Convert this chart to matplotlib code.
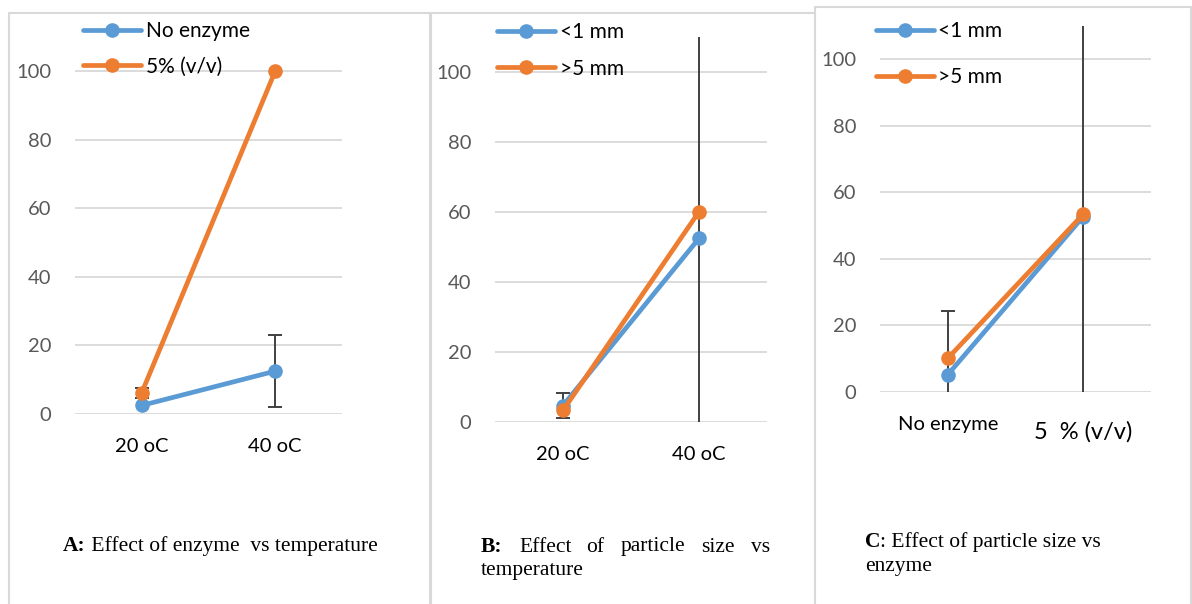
import matplotlib.pyplot as plt
import numpy as np
from matplotlib.patches import Rectangle

# data
temps = ['20 oC', '40 oC']
enzyme_levels = ['No enzyme', '5  % (v/v)']

a_none = [2.5, 12.5]
a_none_err = [0, 10.5]
a_5pct = [6.2, 100]
a_5pct_err = [1.4, 0]

b_small = [4.7, 52.4]
b_small_err = [3.6, 0]
b_large = [3.3, 60.0]
b_large_err = [0, 61]

c_small = [5.2, 52.7]
c_small_err = [0, 0]
c_large = [10.1, 53.4]
c_large_err = [14.1, 61]

W, H = 1192, 604
BLUE = '#5B9BD5'
ORANGE = '#ED7D31'
GRID = '#D9D9D9'

plt.rcParams['font.family'] = 'Lato'
fig = plt.figure(figsize=(W / 100, H / 100), dpi=100)
renderer = fig.canvas.get_renderer()


def px_axes(left, right, y0, y110):
    # axes rectangle from pixel positions
    return fig.add_axes([left / W, 1 - y0 / H, (right - left) / W, (y0 - y110) / H])


def draw_panel(ax, cats, s1, e1, s2, e2, labels, leg_xy, leg_space):
    x = np.arange(len(cats))
    for vals, col, lab in [(s1, BLUE, labels[0]), (s2, ORANGE, labels[1])]:
        ax.plot(x, vals, color=col, lw=3.4, marker='o', ms=9.5, label=lab,
                zorder=4, clip_on=False, solid_capstyle='round')
    for vals, errs in [(s1, e1), (s2, e2)]:
        idx = [i for i, e in enumerate(errs) if e > 0]
        if idx:
            ax.errorbar(x[idx], np.array(vals)[idx], yerr=np.array(errs)[idx],
                        fmt='none', ecolor='#404040', elinewidth=1.4,
                        capsize=5, capthick=1.4, zorder=3)
    ax.set_xlim(-0.5, len(cats) - 0.5)
    ax.set_ylim(0, 110)
    ax.set_yticks(np.arange(0, 101, 20))
    ax.set_xticks(x, cats)
    ax.yaxis.grid(True, color=GRID, lw=1.3)
    ax.set_axisbelow(True)
    for s in ax.spines.values():
        s.set_visible(False)
    ax.tick_params(axis='y', length=0, pad=17, labelsize=14.5, labelcolor='#595959')
    ax.tick_params(axis='x', length=0, pad=17.5, labelsize=14.5, labelcolor='black')
    ax.legend(loc='upper left', bbox_to_anchor=(leg_xy[0] / W, 1 - leg_xy[1] / H),
              bbox_transform=fig.transFigure, frameon=False, fontsize=15,
              handlelength=2.8, handletextpad=0.2, labelspacing=leg_space,
              borderpad=0, borderaxespad=0)


def caption(xp, yp, bold, rest, gap=0):
    # bold lead followed by regular text
    t = fig.text(xp / W, 1 - yp / H, bold, fontsize=15.5, family='Liberation Serif',
                 weight='bold', va='center')
    x1 = t.get_window_extent(renderer).x1
    fig.text((x1 + gap) / W, 1 - yp / H, rest, fontsize=15.5,
             family='Liberation Serif', va='center')


# panel frames
for x0, x1, top in [(9, 430, 13), (431, 815, 13), (815, 1191, 7)]:
    fig.add_artist(Rectangle((x0 / W, -0.02), (x1 - x0) / W, 1.02 - top / H,
                             transform=fig.transFigure, fill=False,
                             edgecolor=GRID, lw=1.5))

axA = px_axes(75, 342, 414, 36.7)
draw_panel(axA, temps, a_none, a_none_err, a_5pct, a_5pct_err,
           ['No enzyme', '5% (v/v)'], (83, 21), 0.75)

axB = px_axes(495, 767, 422, 36.5)
draw_panel(axB, temps, b_small, b_small_err, b_large, b_large_err,
           ['<1 mm', '>5 mm'], (497, 22), 0.8)

axC = px_axes(880, 1151, 392, 25.7)
draw_panel(axC, enzyme_levels, c_small, c_small_err, c_large, c_large_err,
           ['<1 mm', '>5 mm'], (876, 21), 1.25)
tick = axC.xaxis.get_major_ticks()[1]
tick.label1.set_fontsize(17)
tick.set_pad(21)

# captions
caption(63, 546, 'A:', ' Effect of enzyme  vs temperature')

fig.text(481 / W, 1 - 547 / H, 'B:', fontsize=15.5, family='Liberation Serif',
         weight='bold', va='center')
for w, xp in [('Effect', 519), ('of', 586), ('particle', 621), ('size', 701), ('vs', 751)]:
    fig.text(xp / W, 1 - 547 / H, w, fontsize=15.5, family='Liberation Serif', va='center')
fig.text(481 / W, 1 - 571 / H, 'temperature', fontsize=15.5,
         family='Liberation Serif', va='center')

caption(865, 542, 'C', ': Effect of particle size vs')
fig.text(865 / W, 1 - 566 / H, 'enzyme', fontsize=15.5,
         family='Liberation Serif', va='center')

fig.savefig('out.png', dpi=100)
